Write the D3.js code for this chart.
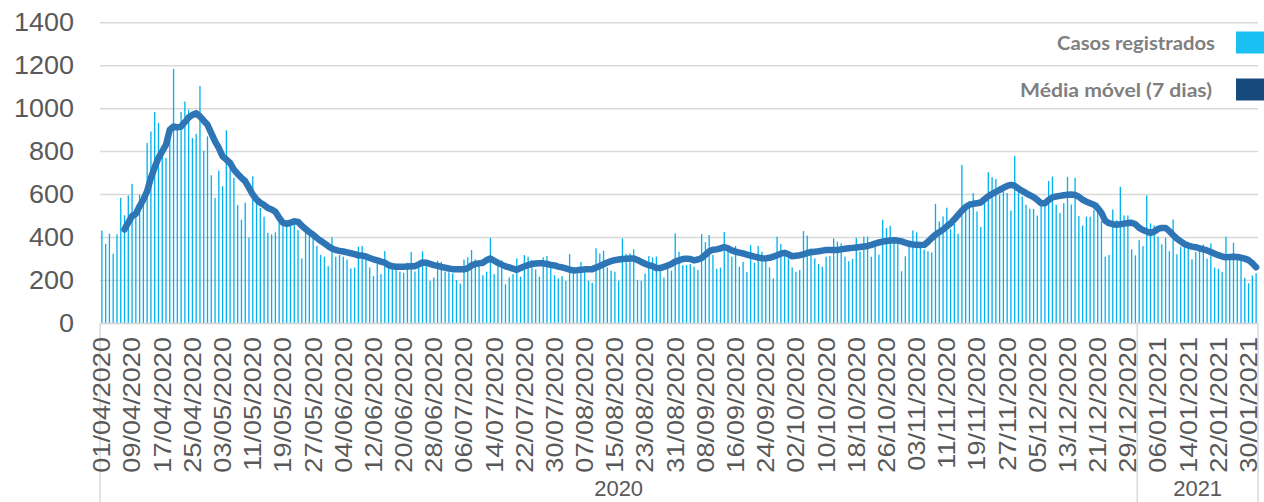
<!DOCTYPE html>
<html>
<head>
<meta charset="utf-8">
<script src="https://cdn.jsdelivr.net/npm/d3@7"></script>
<style>
  html, body { margin: 0; padding: 0; background: #ffffff; }
  svg { display: block; }
</style>
</head>
<body>
<svg id="chart" width="1264" height="502"></svg>
<script>
// ---------- DATA ----------
const startDate = "2020-04-01"; // first category (daily categories up to 01/02/2021)

// Casos registrados (daily)
const cases = [
  433,371,418,325,415,585,504,596,650,507,
  600,600,840,894,984,933,786,770,880,1185,
  910,984,1033,995,863,882,1106,804,871,690,
  585,712,639,899,739,678,551,483,562,400,
  685,593,538,497,422,415,424,505,470,475,
  460,470,435,
  303,427,412,404,361,319,311,267,401,311,
  319,311,298,256,261,357,361,303,261,221,
  277,230,337,264,261,249,241,236,283,333,
  242,267,336,267,199,214,292,287,242,239,
  233,202,186,298,308,342,298,287,225,241,
  398,230,
  287,295,183,214,230,303,218,319,311,295,
  252,218,308,314,287,225,210,221,199,323,
  256,233,287,261,199,190,350,326,339,261,
  246,241,199,396,323,326,345,202,199,233,
  314,308,311,267,214,280,246,420,334,272,
  272,277,264,249,416,378,412,319,255,260,
  426,350,311,361,264,287,239,365,283,361,
  334,314,261,210,404,370,326,303,261,241,
  249,430,409,350,303,277,264,311,314,396,
  381,373,311,290,300,399,334,404,404,311,
  370,320,483,
  444,455,390,393,243,313,359,433,424,359,
  344,336,331,557,475,498,539,440,464,418,
  738,537,568,607,522,449,560,704,681,673,
  599,625,607,526,780,622,591,553,534,533,
  502,573,557,663,684,553,514,560,
  682,554,678,500,456,497,497,528,562,476,
  311,319,531,481,636,503,503,345,317,388,
  360,596,466,456,404,368,399,337,484,322,
  357,368,348,299,333,364,368,302,373,260,
  255,240,404,299,376,299,299,213,187,223,
  234
];

// Média móvel (7 dias) — starts on the 7th day
const movingAvg = [
  null,null,null,null,null,null,
  438,470,500,510,546,577,616,678,727,770,
  801,832,902,917,913,917,937,959,971,978,
  964,944,925,886,848,817,778,763,747,716,
  696,678,662,631,600,577,562,551,538,531,
  520,492,469,464,469,476,473,455,440,425,
  413,398,385,373,360,349,342,338,335,331,
  327,323,317,316,312,305,299,294,288,283,
  272,266,264,264,264,265,266,267,275,284,
  283,277,272,268,263,260,256,253,252,252,
  252,258,270,277,280,283,295,302,292,282,
  274,266,261,255,250,258,266,272,277,279,
  280,280,277,273,270,265,261,256,251,247,
  248,250,252,252,253,260,268,276,284,290,
  295,298,300,301,302,303,296,286,278,271,
  267,258,258,263,270,277,288,294,300,302,
  300,294,298,305,320,336,343,345,350,356,
  350,340,334,330,326,321,316,311,307,304,
  303,306,311,318,325,329,322,313,315,318,
  322,328,332,334,336,339,342,342,342,342,
  345,348,350,352,354,356,358,361,366,372,
  377,381,384,386,387,386,382,376,371,368,
  366,365,366,380,398,413,425,437,452,466,
  485,505,525,542,553,557,560,563,578,592,
  603,612,622,632,640,645,641,628,617,607,
  597,588,575,560,560,575,587,591,594,597,
  599,600,598,590,576,567,560,553,538,515,
  478,467,462,460,462,465,468,469,462,445,
  435,428,421,428,440,445,445,430,412,395,
  382,370,363,358,355,350,345,340,333,325,
  318,312,308,310,311,310,306,302,295,280,
  262
];

const yTicks = [0, 200, 400, 600, 800, 1000, 1200, 1400];

const tickLabels = [
  "01/04/2020","09/04/2020","17/04/2020","25/04/2020","03/05/2020","11/05/2020",
  "19/05/2020","27/05/2020","04/06/2020","12/06/2020","20/06/2020","28/06/2020",
  "06/07/2020","14/07/2020","22/07/2020","30/07/2020","07/08/2020","15/08/2020",
  "23/08/2020","31/08/2020","08/09/2020","16/09/2020","24/09/2020","02/10/2020",
  "10/10/2020","18/10/2020","26/10/2020","03/11/2020","11/11/2020","19/11/2020",
  "27/11/2020","05/12/2020","13/12/2020","21/12/2020","29/12/2020","06/01/2021",
  "14/01/2021","22/01/2021","30/01/2021"
];

const years = ["2020", "2021"];
const legendLabels = ["Casos registrados", "Média móvel (7 dias)"];

// ---------- CHART ----------
(function () {
const fmt = d3.timeFormat("%d/%m/%Y");
const t0 = d3.timeParse("%Y-%m-%d")(startDate);
const days = d3.timeDay.range(t0, d3.timeDay.offset(t0, cases.length));
const cats = days.map(fmt);

const svg = d3.select("#chart");
const pL = 100, pR = 1258, pT = 22.7, pB = 323.5;

const x = d3.scaleBand().domain(cats).range([pL, pR]).padding(0);
const y = d3.scaleLinear().domain([0, 1400]).range([pB, pT]);
const bw = x.bandwidth();

const GRID = "#d9d9d9", TXT = "#595959";

// gridlines
svg.append("g").selectAll("line").data(yTicks).join("line")
  .attr("x1", pL).attr("x2", pR)
  .attr("y1", d => y(d)).attr("y2", d => y(d))
  .attr("stroke", GRID).attr("stroke-width", 1.5);

// bars
svg.append("g").selectAll("rect").data(cases).join("rect")
  .attr("x", (d, i) => x(cats[i]) + bw / 2 - 0.65)
  .attr("width", 1.3)
  .attr("y", d => y(d))
  .attr("height", d => y(0) - y(d))
  .attr("fill", "#00b0f0");

// moving average line
const line = d3.line()
  .defined(d => d != null)
  .x((d, i) => x(cats[i]) + bw / 2)
  .y(d => y(d))
  .curve(d3.curveLinear);
svg.append("path").datum(movingAvg)
  .attr("d", line)
  .attr("fill", "none")
  .attr("stroke", "#2e75b6")
  .attr("stroke-width", 6.5)
  .attr("stroke-linejoin", "round")
  .attr("stroke-linecap", "round");

// category axis base + dividers
svg.append("line").attr("x1", pL).attr("x2", pR)
  .attr("y1", y(0)).attr("y2", y(0)).attr("stroke", GRID).attr("stroke-width", 1.5);
const yearStart = cats.indexOf("01/01/2021");
const divX = [pL, x(cats[yearStart]), pR];
svg.append("g").selectAll("line").data(divX).join("line")
  .attr("x1", d => d).attr("x2", d => d)
  .attr("y1", y(0)).attr("y2", 502)
  .attr("stroke", GRID).attr("stroke-width", 1.5);

// y labels
svg.append("g").selectAll("text").data(yTicks).join("text")
  .attr("transform", d => `translate(74,${y(d)}) scale(1.08,1)`)
  .attr("text-anchor", "end")
  .attr("dominant-baseline", "central")
  .attr("font-family", "'Liberation Sans', Arial, sans-serif")
  .attr("font-size", 25)
  .attr("fill", TXT)
  .text(d => d);

// x tick labels (rotated)
svg.append("g").selectAll("text").data(tickLabels).join("text")
  .attr("transform", d => `translate(${x(d) + bw / 2},337) rotate(-90) scale(1.13,1)`)
  .attr("text-anchor", "end")
  .attr("dominant-baseline", "central")
  .attr("font-family", "'Liberation Sans', Arial, sans-serif")
  .attr("font-size", 24)
  .attr("fill", TXT)
  .text(d => d);

// year labels
const yearCenters = [(divX[0] + divX[1]) / 2, (divX[1] + divX[2]) / 2];
svg.append("g").selectAll("text").data(years).join("text")
  .attr("x", (d, i) => yearCenters[i])
  .attr("y", 488)
  .attr("text-anchor", "middle")
  .attr("dominant-baseline", "central")
  .attr("font-family", "'Liberation Sans', Arial, sans-serif")
  .attr("font-size", 22)
  .attr("fill", TXT)
  .text(d => d);

// legend
const legend = [
  { label: legendLabels[0], color: "#1bc0f2", cy: 42.5, xEnd: 1215, w: 158 },
  { label: legendLabels[1], color: "#174a7c", cy: 89.5, xEnd: 1212, w: 192 }
];
const lg = svg.append("g");
legend.forEach(l => {
  lg.append("text")
    .attr("x", l.xEnd - l.w).attr("y", l.cy)
    .attr("dominant-baseline", "central")
    .attr("font-family", "Lato, 'Open Sans', sans-serif")
    .attr("font-weight", 700)
    .attr("font-size", 19)
    .attr("textLength", l.w)
    .attr("lengthAdjust", "spacingAndGlyphs")
    .attr("fill", "#7f7f7f")
    .text(l.label);
  lg.append("rect")
    .attr("x", 1236).attr("y", l.cy - 11)
    .attr("width", 28).attr("height", 22)
    .attr("fill", l.color);
});
})();
</script>
</body>
</html>
